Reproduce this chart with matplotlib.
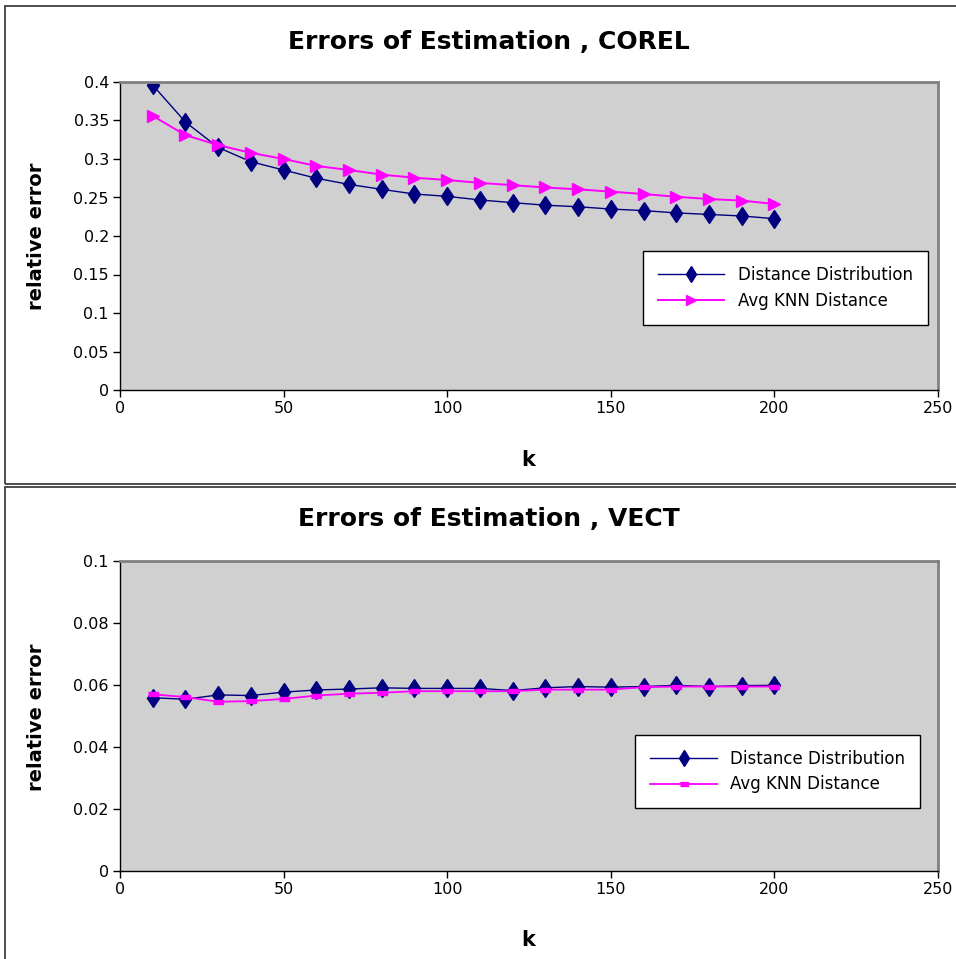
import matplotlib
matplotlib.use("Agg")
import matplotlib.pyplot as plt
from matplotlib.patches import Rectangle

k = [10, 20, 30, 40, 50, 60, 70, 80, 90, 100, 110, 120, 130, 140, 150, 160, 170, 180, 190, 200]

# COREL
corel_dist = [0.396, 0.348, 0.315, 0.2965, 0.2857, 0.275, 0.267, 0.2606, 0.2545, 0.2515,
              0.2468, 0.2433, 0.240, 0.238, 0.235, 0.233, 0.230, 0.228, 0.226, 0.2225]
corel_knn = [0.356, 0.331, 0.318, 0.308, 0.300, 0.291, 0.2857, 0.2797, 0.2757, 0.2727,
             0.269, 0.266, 0.263, 0.2606, 0.2576, 0.2545, 0.251, 0.248, 0.246, 0.2416]

# VECT
vect_dist = [0.0559, 0.0554, 0.0568, 0.0566, 0.0577, 0.0584, 0.0587, 0.0591, 0.0589, 0.0589,
             0.0589, 0.0582, 0.0591, 0.0595, 0.0593, 0.0595, 0.0599, 0.0595, 0.0598, 0.0599]
vect_knn = [0.0570, 0.0561, 0.0546, 0.0548, 0.0555, 0.0566, 0.0572, 0.0575, 0.0580, 0.0580,
            0.0580, 0.0580, 0.0585, 0.0585, 0.0585, 0.0593, 0.0595, 0.0595, 0.0595, 0.0595]

corel_yticks = [0, 0.05, 0.1, 0.15, 0.2, 0.25, 0.3, 0.35, 0.4]
vect_yticks = [0, 0.02, 0.04, 0.06, 0.08, 0.1]
xticks = [0, 50, 100, 150, 200, 250]

W, H = 956, 959
fig = plt.figure(figsize=(W / 100, H / 100), dpi=100)
plt.rcParams['font.family'] = 'DejaVu Sans'

# outer frames of the two charts
for (x0, y0, x1, y1) in [(5, 6, 960, 484), (5, 487, 960, 962)]:
    fig.patches.append(Rectangle((x0 / W, 1 - y1 / H), (x1 - x0) / W, (y1 - y0) / H,
                                 transform=fig.transFigure, fill=False,
                                 edgecolor='#404040', linewidth=1.3))

navy = '#000080'
magenta = '#FF00FF'
bar_marker = [(-1, -0.45), (1, -0.45), (1, 0.45), (-1, 0.45)]


def make_axes(top, bottom):
    ax = fig.add_axes([120 / W, 1 - bottom / H, 818 / W, (bottom - top) / H])
    ax.set_facecolor('#D0D0D0')
    for s in ['top', 'right']:
        ax.spines[s].set_color('#808080')
        ax.spines[s].set_linewidth(2)
    for s in ['left', 'bottom']:
        ax.spines[s].set_color('black')
        ax.spines[s].set_linewidth(1)
    ax.tick_params(direction='out', length=5, width=1, labelsize=11.5, pad=3)
    ax.set_xlim(0, 250)
    ax.set_xticks(xticks)
    ax.set_xticklabels([str(t) for t in xticks])
    return ax


def add_legend(ax, x, y):
    leg = ax.legend(loc='upper left', bbox_to_anchor=(x, y), fontsize=12,
                    frameon=True, fancybox=False, edgecolor='black', framealpha=1,
                    handlelength=4.0, borderpad=0.9, labelspacing=0.45, handletextpad=0.8,
                    borderaxespad=0, markerscale=0.85)
    leg.get_frame().set_linewidth(1)
    return leg


# top chart
ax1 = make_axes(82, 390)
ax1.plot(k, corel_dist, color=navy, lw=1, marker='d', ms=9.5, mfc=navy, mec=navy,
         label='Distance Distribution')
ax1.plot(k, corel_knn, color=magenta, lw=1.4, marker='>', ms=8.5, mfc=magenta, mec=magenta,
         label='Avg KNN Distance')
ax1.set_ylim(0, 0.4)
ax1.set_yticks(corel_yticks)
ax1.set_yticklabels(['0', '0.05', '0.1', '0.15', '0.2', '0.25', '0.3', '0.35', '0.4'])
add_legend(ax1, 0.639, 0.451)
fig.text(489 / W, 1 - 42 / H, 'Errors of Estimation , COREL', ha='center', va='center',
         fontsize=18, fontweight='bold')
fig.text(37 / W, 1 - 236 / H, 'relative error', ha='center', va='center', rotation=90,
         fontsize=14, fontweight='bold')
fig.text(528 / W, 1 - 460 / H, 'k', ha='center', va='center', fontsize=15, fontweight='bold')

# bottom chart
ax2 = make_axes(561, 871)
ax2.plot(k, vect_dist, color=navy, lw=1, marker='d', ms=9.5, mfc=navy, mec=navy,
         label='Distance Distribution')
ax2.plot(k, vect_knn, color=magenta, lw=1.3, marker=bar_marker, ms=7, mfc=magenta, mec=magenta,
         label='Avg KNN Distance')
ax2.set_ylim(0, 0.1)
ax2.set_yticks(vect_yticks)
ax2.set_yticklabels(['0', '0.02', '0.04', '0.06', '0.08', '0.1'])
add_legend(ax2, 0.630, 0.439)
fig.text(489 / W, 1 - 519 / H, 'Errors of Estimation , VECT', ha='center', va='center',
         fontsize=18, fontweight='bold')
fig.text(37 / W, 1 - 717 / H, 'relative error', ha='center', va='center', rotation=90,
         fontsize=14, fontweight='bold')
fig.text(528 / W, 1 - 940 / H, 'k', ha='center', va='center', fontsize=15, fontweight='bold')

fig.savefig('out.png', dpi=100)
